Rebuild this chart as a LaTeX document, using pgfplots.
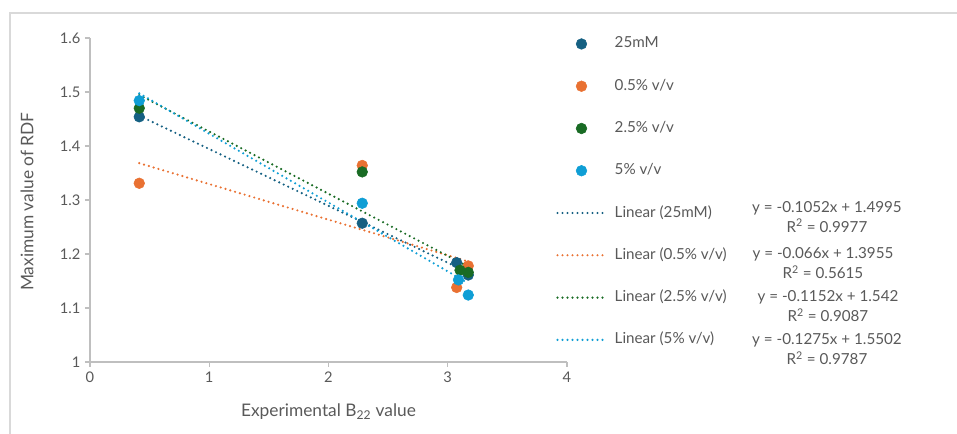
\documentclass[border=0pt]{standalone}
\usepackage{fontspec}
\setmainfont{Lato}
\usepackage{pgfplots}
\pgfplotsset{compat=1.18}
\definecolor{cA}{HTML}{156082}
\definecolor{cB}{HTML}{E97132}
\definecolor{cC}{HTML}{196B24}
\definecolor{cD}{HTML}{0F9ED5}
\definecolor{txt}{HTML}{595959}
\definecolor{axc}{HTML}{BFBFBF}
\definecolor{frm}{HTML}{D9D9D9}
\begin{document}
\begin{tikzpicture}[x=0.75pt,y=0.75pt]
\path[use as bounding box] (0,0) rectangle (957,434);
\draw[color=frm, line width=1.2pt] (10,0) -- (10,421) -- (957,421);
\begin{axis}[
  at={(67.5pt,54pt)}, anchor=south west,
  scale only axis, width=357.75pt, height=243pt,
  xmin=0, xmax=4, ymin=1, ymax=1.6,
  axis lines*=left,
  axis line style={axc, line width=0.9pt},
  tick style={axc, line width=0.8pt},
  tick align=outside, major tick length=3.75pt,
  xtick={0,1,2,3,4},
  ytick={1,1.1,1.2,1.3,1.4,1.5,1.6},
  /pgf/number format/assume math mode=true,
  yticklabel style={/pgf/number format/fixed, /pgf/number format/precision=1},
  ticklabel style={font=\fontsize{11}{13}\selectfont, text=txt},
  xlabel={Experimental B\textsubscript{22} value},
  ylabel={Maximum value of RDF},
  label style={font=\fontsize{13}{15}\selectfont, text=txt},
  xlabel style={at={(axis description cs:0.5,-0.154)}, anchor=center},
  ylabel style={at={(axis description cs:-0.132,0.495)}, anchor=center},
  legend image code/.code={\draw[mark repeat=2,mark phase=2,#1] plot coordinates {(0pt,0pt) (18pt,0pt) (36pt,0pt)};},
  legend style={at={(0.977,1.003)}, anchor=north west, draw=none, fill=none,
    inner sep=0pt, font=\fontsize{11.4}{13}\selectfont, text=txt, row sep=21.7pt,
    nodes={inner xsep=6pt, inner ysep=0pt, text height=8pt, text depth=2pt}},
  legend cell align=left,
]
\addplot[only marks, mark=*, mark size=4pt, color=cA] coordinates {(0.413,1.454) (2.283,1.257) (3.075,1.184) (3.172,1.161)};
\addplot[only marks, mark=*, mark size=4pt, color=cB] coordinates {(0.413,1.331) (2.283,1.364) (3.075,1.138) (3.172,1.178)};
\addplot[only marks, mark=*, mark size=4pt, color=cC] coordinates {(0.413,1.470) (2.283,1.352) (3.103,1.170) (3.172,1.166)};
\addplot[only marks, mark=*, mark size=4pt, color=cD] coordinates {(0.413,1.484) (2.283,1.294) (3.090,1.152) (3.172,1.124)};
\addplot[no marks, color=cA, line width=1.8pt, line cap=round, dash pattern=on 0pt off 3.75pt] coordinates {(0.413,1.4561) (3.172,1.1658)};
\addplot[no marks, color=cB, line width=1.8pt, line cap=round, dash pattern=on 0pt off 3.75pt] coordinates {(0.413,1.3682) (3.172,1.1862)};
\addplot[no marks, color=cC, line width=1.8pt, line cap=round, dash pattern=on 0pt off 3.75pt] coordinates {(0.413,1.4944) (3.172,1.1766)};
\addplot[no marks, color=cD, line width=1.8pt, line cap=round, dash pattern=on 0pt off 3.75pt] coordinates {(0.413,1.4975) (3.172,1.1458)};
\legend{25mM, 0.5\% v/v, 2.5\% v/v, 5\% v/v, Linear (25mM), Linear (0.5\% v/v), Linear (2.5\% v/v), Linear (5\% v/v)}
\end{axis}
\begin{scope}[every node/.style={align=center, text=txt, font=\fontsize{11.4}{15}\selectfont}]
\node at (827,217.3) {y = -0.1052x + 1.4995\\R\textsuperscript{2} = 0.9977};
\node at (823,170.7) {y = -0.066x + 1.3955\\R\textsuperscript{2} = 0.5615};
\node at (828,128) {y = -0.1152x + 1.542\\R\textsuperscript{2} = 0.9087};
\node at (827,84.7) {y = -0.1275x + 1.5502\\R\textsuperscript{2} = 0.9787};
\end{scope}
\end{tikzpicture}
\end{document}
